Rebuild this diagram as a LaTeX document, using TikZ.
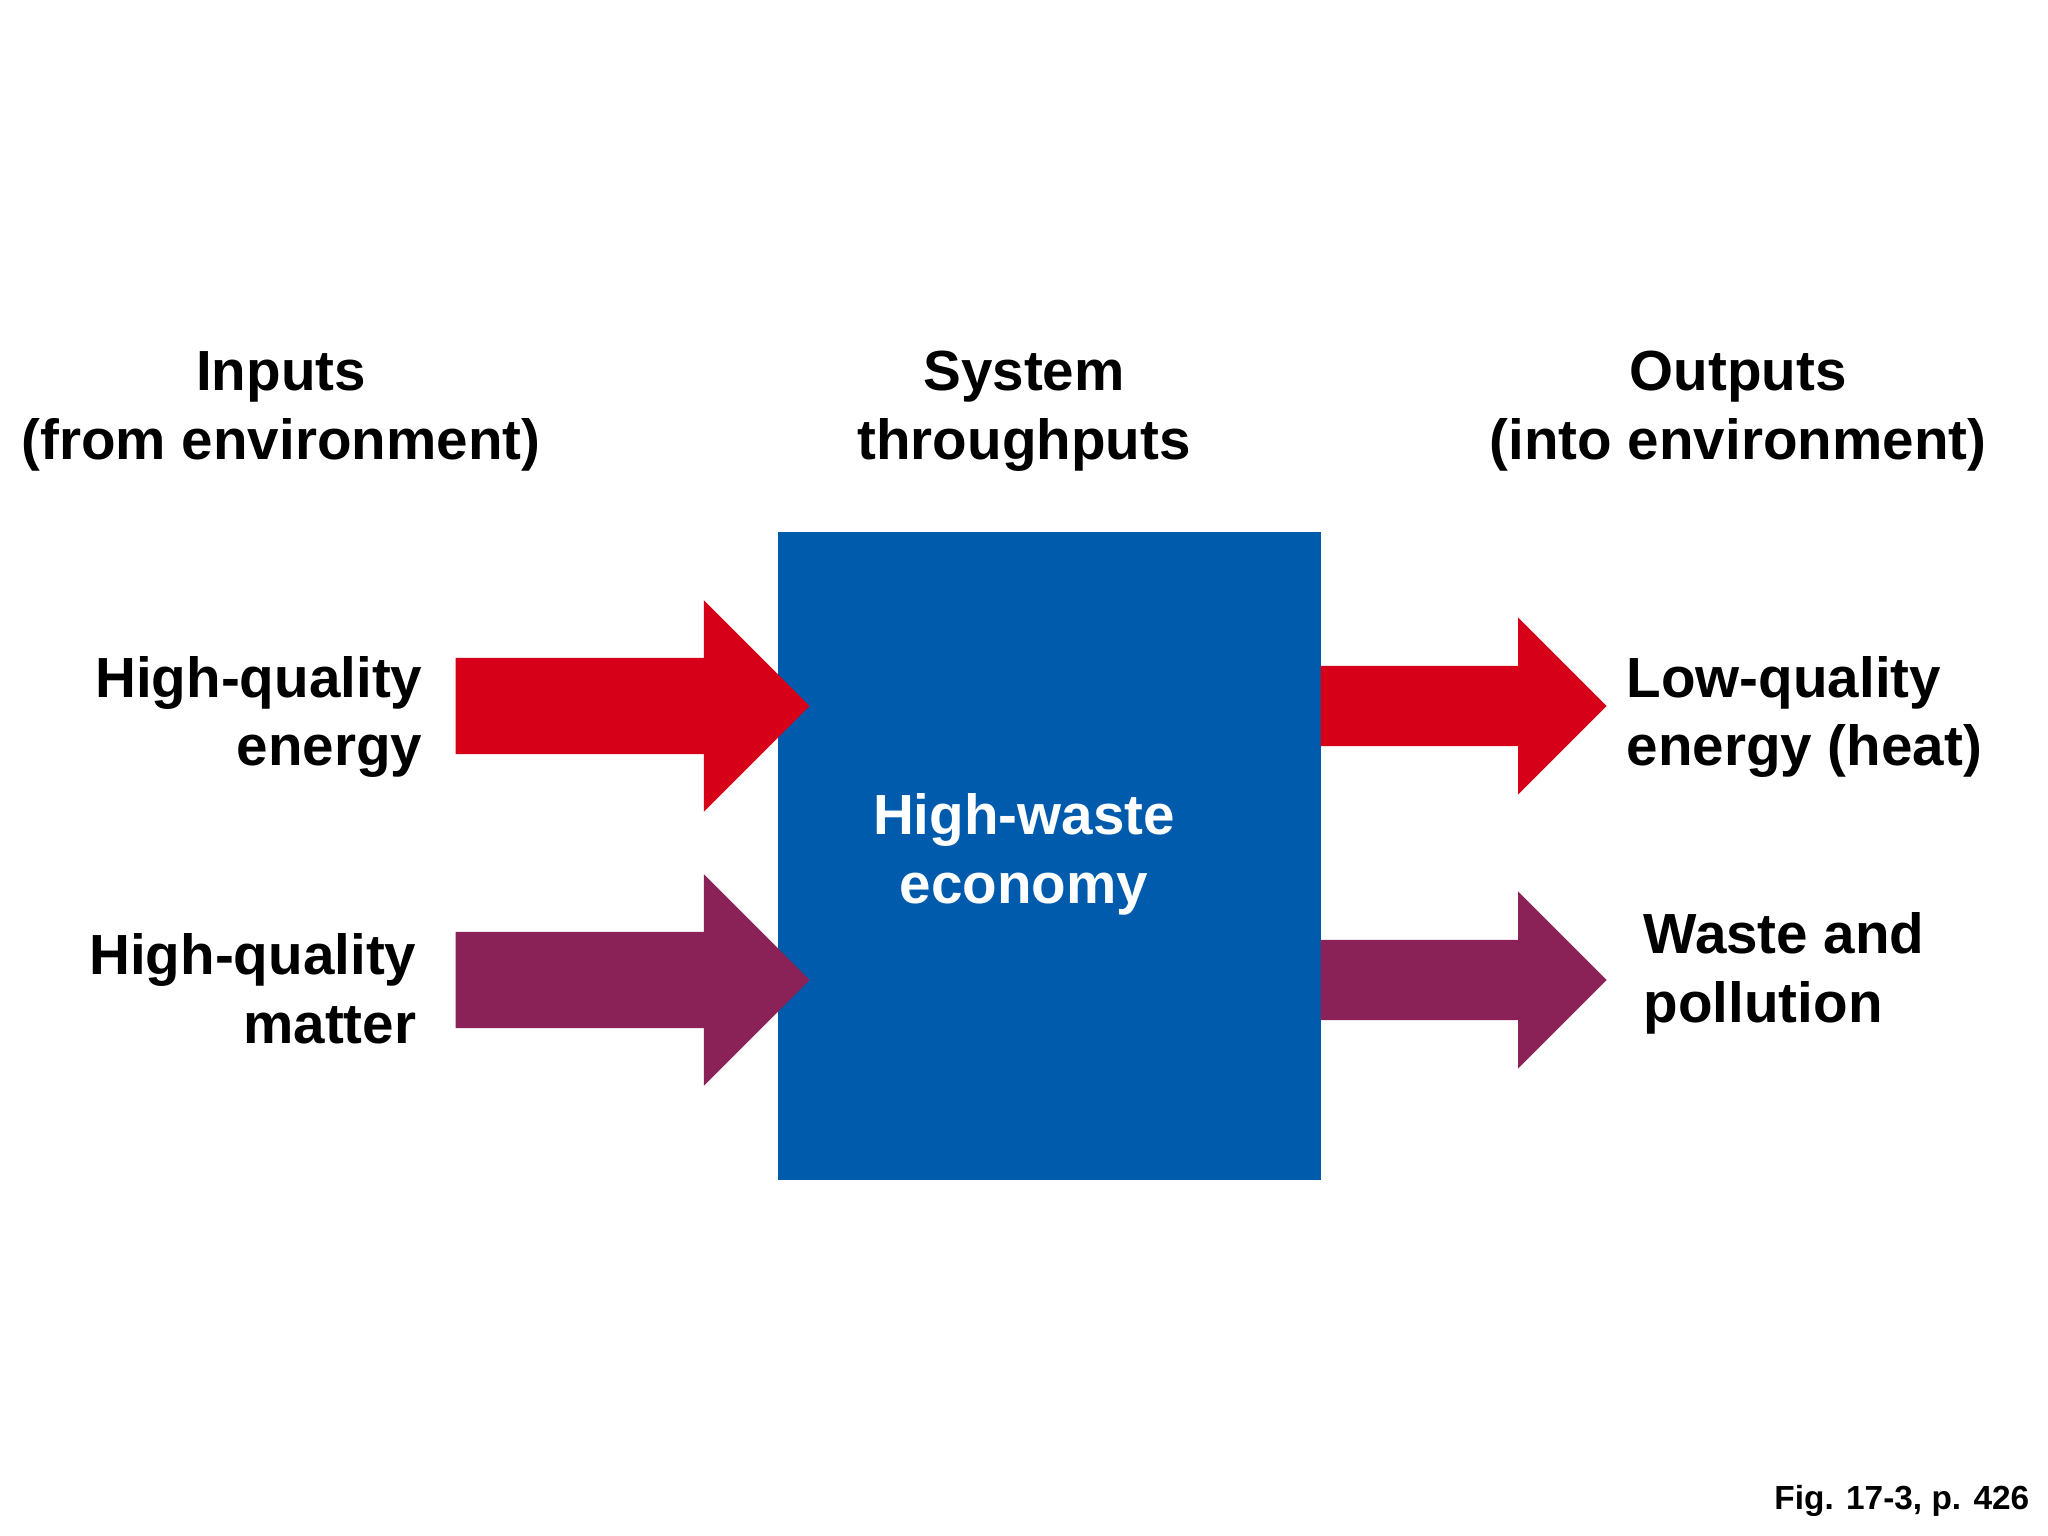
\documentclass[tikz,border=0pt]{standalone}
\usepackage{fontspec}
\setmainfont{Liberation Sans}
\usetikzlibrary{shapes.arrows}
\definecolor{boxblue}{RGB}{0,91,172}
\definecolor{heatred}{RGB}{214,0,24}
\definecolor{matterpurple}{RGB}{139,34,87}
\tikzset{
  lbl/.style={inner sep=0pt,font=\bfseries\fontsize{16.1}{19.6}\selectfont},
  inarrow/.style={single arrow,draw=none,anchor=tail,inner xsep=0pt,inner ysep=0.475cm,
    single arrow head extend=0.575cm,minimum height=3.54cm},
  outarrow/.style={single arrow,draw=none,anchor=tail,inner xsep=0pt,inner ysep=0.395cm,
    single arrow head extend=0.485cm,minimum height=2.86cm}
}
\begin{document}
\begin{tikzpicture}
\useasboundingbox (0,0) rectangle (20.48,15.36);
\fill[white] (0,0) rectangle (20.48,15.36);
% column heads
\node[lbl,align=center] (inhead) at (2.81,11.25) {Inputs\\(from environment)};
\node[lbl,align=center] (syshead) at (10.24,11.25) {System\\throughputs};
\node[lbl,align=center] (outhead) at (17.38,11.25) {Outputs\\(into environment)};
% the system
\node[fill=boxblue,inner sep=0pt,minimum width=5.43cm,minimum height=6.48cm,anchor=north west] (econbox) at (7.77,10.05) {};
\node[lbl,align=center,text=white] (econ) at (10.24,6.82) {High-waste\\economy};
% inputs
\node[inarrow,fill=heatred] (eIn) at (4.55,8.30) {};
\node[inarrow,fill=matterpurple] (mIn) at (4.55,5.56) {};
\node[lbl,align=right,anchor=east] (eInLbl) at (4.23,8.19) {High-quality\\energy};
\node[lbl,align=right,anchor=east] (mInLbl) at (4.17,5.47) {High-quality\\matter};
% outputs
\node[outarrow,fill=heatred] (eOut) at (13.20,8.30) {};
\node[outarrow,fill=matterpurple] (mOut) at (13.20,5.56) {};
\node[lbl,align=left,anchor=west] (eOutLbl) at (16.26,8.19) {Low-quality\\energy (heat)};
\node[lbl,align=left,anchor=west] (mOutLbl) at (16.43,5.63) {Waste and\\pollution};
% source
\node[inner sep=0pt,anchor=base east,font=\bfseries\fontsize{9.5}{11}\selectfont] (figref) at (20.30,0.26) {Fig. 17-3, p. 426};
\end{tikzpicture}
\end{document}
